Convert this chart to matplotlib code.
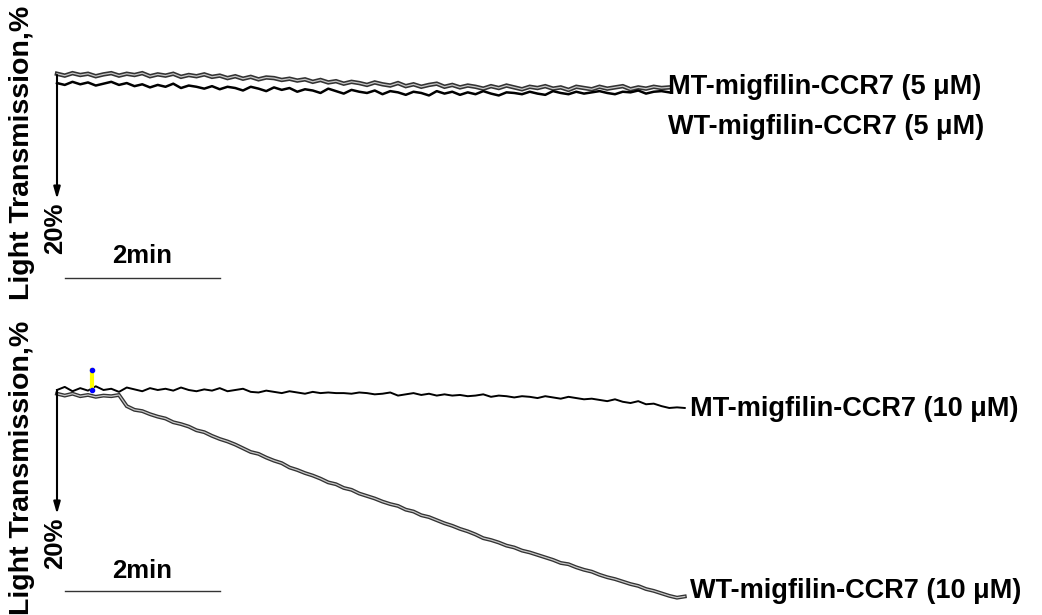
import numpy as np
import matplotlib
matplotlib.use("Agg")
import matplotlib.pyplot as plt

plt.rcParams['font.family'] = ['Liberation Sans', 'DejaVu Sans']
plt.rcParams['font.weight'] = 'bold'

# time axis in minutes, one reading every 0.1 min
t_top = np.round(np.arange(0, 8.0, 0.1), 2)
t_bot = np.round(np.arange(0, 8.2, 0.1), 2)

# change in light transmission (%), downward = increase
top_grey = [-0.2, 0.1, -0.3, 0.0, -0.2, 0.2, -0.1, -0.3, 0.1, -0.2,
            0.0, -0.3, 0.2, -0.1, 0.1, -0.2, 0.3, 0.0, 0.2, -0.1,
            0.3, 0.1, 0.5, 0.2, 0.6, 0.3, 0.7, 0.4, 0.5, 0.8,
            0.6, 0.9, 0.7, 1.1, 0.8, 1.2, 1.0, 1.4, 1.1, 1.3,
            1.6, 1.2, 1.5, 1.7, 1.3, 1.8, 1.5, 1.9, 1.6, 1.4,
            1.9, 1.6, 2.0, 1.7, 1.9, 2.2, 1.8, 2.1, 1.7, 2.0,
            2.3, 1.9, 2.1, 1.8, 2.2, 2.0, 2.4, 1.9, 2.1, 2.3,
            1.9, 2.2, 2.0, 1.8, 2.3, 2.0, 2.2, 1.9, 2.1, 2.0]
top_black = [1.3, 1.6, 1.1, 1.5, 1.2, 1.7, 1.4, 1.1, 1.6, 1.3,
             1.8, 1.5, 2.0, 1.6, 1.9, 1.4, 2.1, 1.7, 1.9, 2.2,
             1.8, 2.3, 1.9, 2.1, 2.5, 1.9, 2.2, 2.6, 2.0, 2.4,
             2.1, 2.7, 2.3, 2.5, 2.9, 2.2, 2.6, 3.0, 2.4, 2.7,
             2.9, 2.5, 3.1, 2.6, 2.8, 3.2, 2.7, 2.9, 3.3, 2.6,
             3.0, 2.7, 3.2, 2.8, 3.1, 2.6, 3.0, 3.3, 2.8, 2.9,
             3.1, 2.7, 3.0, 3.2, 2.6, 2.9, 3.1, 2.7, 3.0, 2.8,
             2.6, 2.9, 3.1, 2.7, 2.8, 2.5, 3.0, 2.7, 2.6, 2.8]
mt_10 = [0.0, -0.5, 0.2, -0.3, 0.1, -0.6, 0.0, -0.2, 0.3, -0.4,
         -0.1, 0.2, -0.3, 0.0, -0.2, 0.1, -0.4, 0.0, 0.2, -0.1,
         0.1, -0.3, 0.2, 0.0, -0.2, 0.3, 0.4, 0.1, 0.3, 0.5,
         0.2, 0.4, 0.6, 0.3, 0.5, 0.4, 0.5, 0.5, 0.6, 0.4,
         0.5, 0.7, 0.6, 0.4, 0.9, 0.7, 0.5, 0.8, 0.6, 0.9,
         0.7, 0.9, 0.8, 1.0, 0.9, 0.7, 1.1, 0.9, 1.0, 1.2,
         1.0, 1.1, 1.3, 1.0, 1.2, 1.4, 1.1, 1.3, 1.5, 1.4,
         1.6, 1.8, 1.5, 1.9, 2.1, 1.8, 2.3, 2.2, 2.6, 2.9,
         2.8, 2.9]
wt_10 = [0.6, 0.9, 0.6, 1.0, 0.8, 1.1, 0.9, 1.0, 0.8, 2.6,
         3.2, 3.4, 3.9, 4.3, 4.6, 5.2, 5.5, 5.9, 6.5, 6.8,
         7.4, 7.9, 8.3, 8.8, 9.4, 10.0, 10.3, 10.9, 11.4, 11.8,
         12.5, 12.9, 13.4, 13.8, 14.3, 14.9, 15.2, 15.8, 16.1, 16.7,
         17.1, 17.5, 18.0, 18.4, 18.7, 19.3, 19.6, 20.2, 20.5, 21.0,
         21.5, 21.9, 22.4, 22.8, 23.3, 23.9, 24.2, 24.6, 25.1, 25.4,
         25.9, 26.2, 26.6, 27.0, 27.4, 27.9, 28.1, 28.6, 29.0, 29.3,
         29.8, 30.2, 30.5, 30.9, 31.3, 31.6, 32.1, 32.4, 32.8, 33.2,
         33.5, 33.3]

inject_time = 0.45
inject_top = -3.3

fig = plt.figure(figsize=(10.42, 6.15), dpi=100)
ax_top = fig.add_axes([0, 0.5, 1, 0.5])
ax_bot = fig.add_axes([0, 0, 1, 0.5])

px_min = 77.5   # pixels per minute
px_pct = 6.2    # pixels per percent
x0 = 57
ax_top.set_xlim(-x0 / px_min, (1042 - x0) / px_min)
ax_bot.set_xlim(-x0 / px_min, (1042 - x0) / px_min)
ax_top.set_ylim((307.5 - 75) / px_pct, -75 / px_pct)
ax_bot.set_ylim((615 - 390) / px_pct, (307.5 - 390) / px_pct)

def hollow(ax, t, y, lw=2.8):
    ax.plot(t, y, color='#333333', lw=lw, solid_joinstyle='miter')
    ax.plot(t, y, color='#c8c8c8', lw=0.9)

hollow(ax_top, t_top, top_grey, lw=3.2)
ax_top.plot(t_top, top_black, color='black', lw=1.8)

ax_bot.plot(t_bot, mt_10, color='black', lw=1.4)
hollow(ax_bot, t_bot, wt_10)
ax_bot.plot([inject_time, inject_time], [inject_top, 0], color='#ffff00', lw=3)
ax_bot.plot([inject_time, inject_time], [inject_top, 0], 'o', color='#0000ff', ms=3)

fs = 19.5
for ax, scale_y in [(ax_top, 32.7), (ax_bot, 32.4)]:
    ax.axis('off')
    ax.annotate('', xy=(0, 20), xytext=(0, 0),
                arrowprops=dict(arrowstyle='-|>,head_width=0.2,head_length=0.7',
                                color='black', lw=1.5, shrinkA=0, shrinkB=0))
    ax.text(-0.03, 24.8, '20%', rotation=90, ha='center', va='center', fontsize=18.5)
    ax.text(1.1, 29.2, '2min', ha='center', va='center', fontsize=18.5)
    ax.plot([0.1, 2.1], [scale_y, scale_y], color='#333333', lw=1)
    ax.text(-0.45, 12.5, 'Light Transmission,%', rotation=90,
            ha='center', va='center', fontsize=20.5)

ax_top.text(7.88, 1.9, 'MT-migfilin-CCR7 (5 \u03bcM)', ha='left', va='center', fontsize=fs)
ax_top.text(7.88, 8.4, 'WT-migfilin-CCR7 (5 \u03bcM)', ha='left', va='center', fontsize=fs)
ax_bot.text(8.17, 3.1, 'MT-migfilin-CCR7 (10 \u03bcM)', ha='left', va='center', fontsize=fs)
ax_bot.text(8.17, 32.4, 'WT-migfilin-CCR7 (10 \u03bcM)', ha='left', va='center', fontsize=fs)

fig.savefig('out.png', dpi=100)
